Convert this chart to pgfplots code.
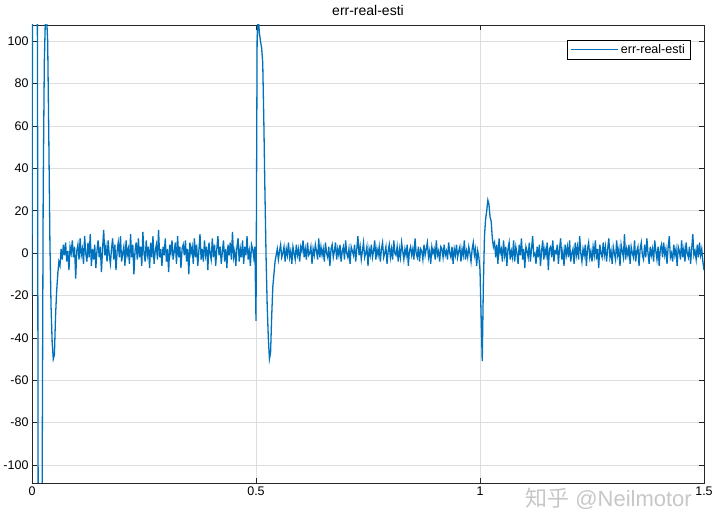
\documentclass[border=0pt]{standalone}
\usepackage{fontspec}
\setmainfont{Liberation Sans}
\newfontfamily\cjk{Noto Sans CJK SC}
\usepackage{pgfplots}
\usepackage{pgfplotstable}
\pgfplotsset{compat=1.18}
\definecolor{mblue}{RGB}{0,114,189}

% error signal, sampled every 0.0025 s from t = 0 to t = 1.5
\pgfplotstableread[row sep=\\]{
y\\
-20\\ 300\\ 450\\ 420\\ 300\\ 60\\ -300\\ -420\\ -350\\ -120\\
30\\ 90\\ 112\\ 112\\ 100\\ 55\\ 5\\ -25\\ -42\\ -50\\
-48\\ -30\\ -18\\ -10\\ -4\\ -6\\
2\\ -3\\ 4\\ -1\\ 5\\ -4\\ 1\\ -8\\ 3\\ 0\\
6\\ -2\\ 3\\ -12\\ 1\\ 4\\ -3\\ 7\\ -1\\ 2\\
-5\\ 8\\ 0\\ -4\\ 5\\ -2\\ 9\\ -6\\ 2\\ -3\\
4\\ -7\\ 1\\ 6\\ -2\\ 3\\ -9\\ 2\\ 11\\ -1\\
3\\ -4\\ 6\\ -1\\ -5\\ 2\\ 7\\ -3\\ 4\\ -8\\
1\\ 5\\ -2\\ 8\\ -4\\ 0\\ 3\\ -6\\ 6\\ -1\\
2\\ -5\\ 9\\ -2\\ 4\\ -10\\ 1\\ 5\\ -3\\ 7\\
-2\\ 3\\ -6\\ 10\\ 0\\ -4\\ 6\\ -1\\ 3\\ -7\\
5\\ -2\\ 8\\ -5\\ 1\\ 4\\ -3\\ 11\\ -2\\ 2\\
-6\\ 3\\ -1\\ 7\\ -4\\ 2\\ -9\\ 4\\ 0\\ 6\\
-3\\ 1\\ 5\\ -5\\ 8\\ -2\\ 3\\ -7\\ 2\\ 4\\
-1\\ 6\\ -4\\ 2\\ -10\\ 5\\ 0\\ 3\\ -5\\ 7\\
-2\\ 4\\ -6\\ 1\\ 9\\ -3\\ 2\\ -4\\ 6\\ -1\\
3\\ -8\\ 5\\ 0\\ -3\\ 7\\ -2\\ 4\\ -6\\ 2\\
8\\ -1\\ 3\\ -5\\ 1\\ 6\\ -4\\ 2\\ -7\\ 4\\
-1\\ 5\\ -3\\ 10\\ -2\\ 1\\ -6\\ 3\\ 7\\ -4\\
2\\ -2\\ 6\\ -5\\ 3\\ -1\\ 8\\ -3\\ 1\\ -6\\
4\\ 2\\ -2\\ 3\\
-32\\ 100\\ 112\\ 104\\ 100\\ 97\\ 90\\ 62\\ 28\\ -2\\
-25\\ -40\\ -50\\ -47\\ -30\\ -16\\ -10\\ -4\\ -1\\
2\\ -3\\ 1\\ 4\\ -2\\ 0\\ 3\\ -4\\ 2\\ -1\\
5\\ -2\\ 1\\ -5\\ 3\\ 0\\ -3\\ 4\\ -1\\ 2\\
-4\\ 3\\ 1\\ 6\\ -2\\ 2\\ -3\\ 5\\ -1\\ 0\\
3\\ -5\\ 2\\ -1\\ 4\\ 1\\ -3\\ 7\\ -2\\ 3\\
-1\\ 2\\ -4\\ 5\\ 0\\ -2\\ 3\\ -6\\ 2\\ 4\\
-2\\ 1\\ 5\\ -3\\ 2\\ -1\\ 4\\ -4\\ 1\\ 3\\
-3\\ 6\\ 0\\ -2\\ 2\\ -5\\ 3\\ 1\\ -1\\ 4\\
-4\\ 2\\ 8\\ -1\\ 3\\ -3\\ 1\\ 5\\ -2\\ 0\\
3\\ -6\\ 2\\ -1\\ 4\\ -2\\ 1\\ 6\\ -3\\ 2\\
-1\\ 3\\ -4\\ 2\\ 5\\ -2\\ 0\\ 3\\ -5\\ 1\\
4\\ -2\\ 2\\ -3\\ 6\\ 0\\ -1\\ 3\\ -4\\ 2\\
-2\\ 5\\ 1\\ -3\\ 2\\ -1\\ 4\\ -6\\ 1\\ 3\\
-1\\ 2\\ -3\\ 7\\ 0\\ -2\\ 3\\ -4\\ 2\\ 1\\
-3\\ 4\\ -1\\ 2\\ 5\\ -2\\ 1\\ -5\\ 3\\ 0\\
2\\ -3\\ 6\\ -1\\ 1\\ -4\\ 3\\ 2\\ -2\\ 4\\
-1\\ 1\\ -3\\ 5\\ 0\\ -2\\ 3\\ -5\\ 2\\ -1\\
4\\ -2\\ 1\\ 3\\ -4\\ 2\\ -1\\ 6\\ -3\\ 1\\
-2\\ 3\\ 0\\ -4\\ 2\\ 5\\ -1\\ 2\\ -6\\ 1\\
-2\\
-8\\ -30\\ -51\\ -15\\ 8\\ 16\\ 20\\ 25\\ 23\\ 17\\
15\\ 7\\ 3\\
5\\ -2\\ 4\\ -5\\ 7\\ 0\\ 2\\ -4\\ 6\\ -1\\
3\\ -6\\ 2\\ 5\\ -3\\ 1\\ -2\\ 6\\ -4\\ 3\\
0\\ -5\\ 4\\ -1\\ 7\\ -3\\ 2\\ -7\\ 3\\ 1\\
-2\\ 5\\ -4\\ 2\\ 8\\ -1\\ 0\\ -5\\ 3\\ -2\\
4\\ -6\\ 1\\ 6\\ -3\\ 2\\ -1\\ 5\\ -8\\ 2\\
3\\ -2\\ 6\\ -4\\ 1\\ 0\\ 4\\ -5\\ 2\\ 7\\
-3\\ 1\\ -6\\ 4\\ -1\\ 3\\ -2\\ 6\\ -4\\ 0\\
2\\ -5\\ 5\\ -1\\ 3\\ -3\\ 8\\ 0\\ -4\\ 2\\
-1\\ 4\\ -6\\ 2\\ 5\\ -2\\ 1\\ -4\\ 3\\ -1\\
6\\ -3\\ 2\\ -7\\ 4\\ 0\\ -2\\ 5\\ -1\\ 3\\
-4\\ 2\\ 7\\ -2\\ 1\\ -5\\ 3\\ 0\\ -3\\ 6\\
-1\\ 2\\ -6\\ 4\\ 1\\ -2\\ 9\\ -3\\ 2\\ -1\\
4\\ -5\\ 3\\ 0\\ -2\\ 6\\ -4\\ 1\\ 3\\ -6\\
2\\ 5\\ -1\\ -3\\ 4\\ -2\\ 7\\ 0\\ -5\\ 3\\
-1\\ 2\\ -4\\ 6\\ 1\\ -3\\ 3\\ -6\\ 2\\ 4\\
-2\\ 5\\ -1\\ 2\\ -5\\ 3\\ 8\\ -2\\ 0\\ -4\\
4\\ -1\\ 2\\ -6\\ 3\\ 1\\ -3\\ 6\\ -2\\ 2\\
-4\\ 5\\ 0\\ -2\\ 3\\ -5\\ 2\\ 9\\ -1\\ 1\\
-3\\ 4\\ -2\\ 5\\ -1\\ 2\\ -4\\ -8\\
}\errdata

\begin{document}
\begin{tikzpicture}[font=\fontsize{12.5}{15}\selectfont]
\begin{axis}[
    width=672pt, height=458pt, scale only axis,
    xmin=0, xmax=1.5, ymin=-108.5, ymax=107.7,
    xtick={0,0.5,1,1.5}, xticklabels={0,0.5,1,1.5},
    ytick={-100,-80,...,100},
    /pgf/number format/assume math mode=true,
    tick align=inside, tick pos=both, major tick length=5pt,
    grid=major, grid style={black!13, line width=0.6pt},
    axis line style={black!85, line width=0.7pt},
    tick style={black!85, line width=0.7pt},
    title={err-real-esti},
    title style={font=\fontsize{14}{16}\selectfont},
    legend style={at={(1,1)}, anchor=north east, xshift=-14pt, yshift=-15pt,
        font=\fontsize{12.5}{15}\selectfont},
    legend cell align=left,
    legend image code/.code={\draw[#1] (0pt,0pt) -- (47pt,0pt);},
]
\addplot[color=mblue, line width=1.3pt] table[x expr=\coordindex*0.0025, y=y] {\errdata};
\addlegendentry{err-real-esti}
\end{axis}
\node[anchor=east, text=black!22, font=\fontsize{22}{24}\selectfont, inner sep=0pt]
    at ([xshift=-12pt, yshift=-16pt]current axis.south east) {{\cjk 知乎} @Neilmotor};
\path ([xshift=-32pt, yshift=-47pt]current axis.south west)
    rectangle ([xshift=16pt, yshift=25pt]current axis.north east);
\end{tikzpicture}
\end{document}
